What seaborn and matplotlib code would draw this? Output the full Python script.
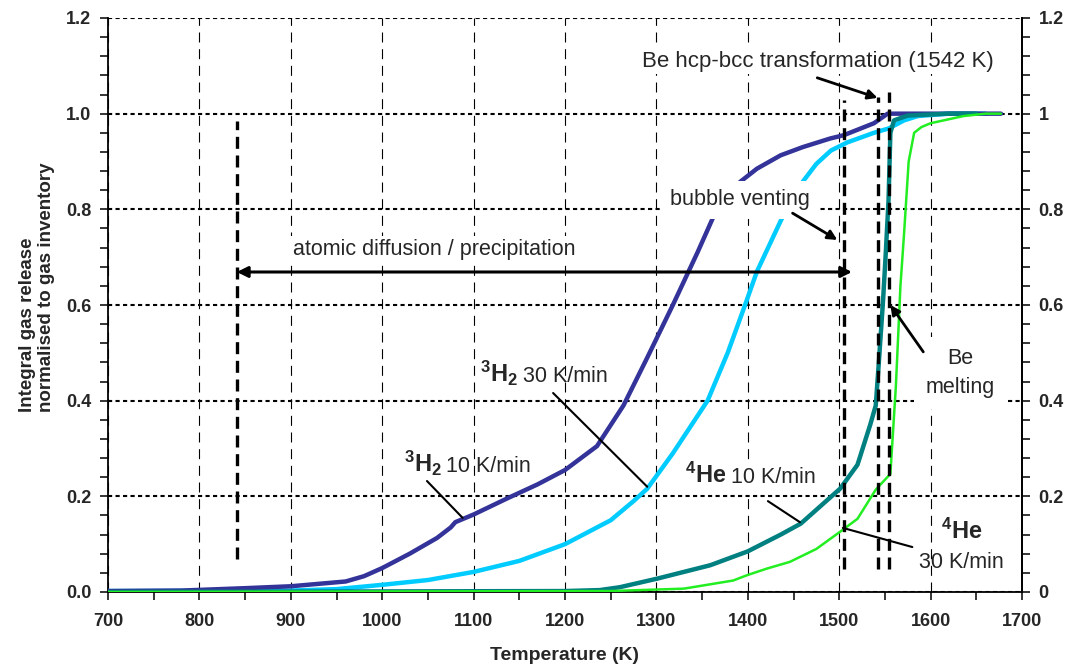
import matplotlib
matplotlib.use("Agg")
import matplotlib.pyplot as plt
import seaborn as sns
from matplotlib.ticker import MultipleLocator, FuncFormatter

# ---- release curves: temperature (K) vs. integral release fraction ----
t_h2_10 = [700, 780, 850, 900, 960, 980, 1000, 1030, 1060, 1075, 1080, 1100, 1136, 1170, 1200,
           1235, 1264, 1290, 1318, 1345, 1366, 1380, 1392, 1410, 1436, 1460, 1490, 1505,
           1538, 1553, 1600, 1677]
v_h2_10 = [0.002, 0.003, 0.008, 0.012, 0.022, 0.033, 0.05, 0.08, 0.113, 0.135, 0.146, 0.162,
           0.195, 0.225, 0.255, 0.305, 0.39, 0.49, 0.6, 0.71, 0.8, 0.835, 0.858, 0.885, 0.913,
           0.93, 0.948, 0.955, 0.98, 1.0, 1.0, 1.0]

t_h2_30 = [700, 900, 950, 1000, 1050, 1100, 1150, 1200, 1250, 1275, 1290, 1318, 1356, 1378,
           1397, 1410, 1436, 1448, 1461, 1475, 1491, 1509, 1538, 1554, 1571, 1586, 1620, 1660]
v_h2_30 = [0.002, 0.003, 0.006, 0.015, 0.025, 0.042, 0.065, 0.1, 0.15, 0.19, 0.216, 0.29,
           0.40, 0.50, 0.60, 0.67, 0.776, 0.82, 0.86, 0.895, 0.923, 0.94, 0.96, 0.969, 0.986,
           0.995, 1.0, 1.0]

t_he_10 = [700, 1200, 1238, 1260, 1301, 1330, 1359, 1400, 1436, 1458, 1501, 1520, 1534, 1540,
           1543, 1548, 1551, 1554, 1556, 1560, 1575, 1620, 1650]
v_he_10 = [0.0, 0.002, 0.004, 0.01, 0.028, 0.042, 0.056, 0.085, 0.12, 0.143, 0.216, 0.266,
           0.35, 0.39, 0.47, 0.61, 0.71, 0.82, 0.96, 0.986, 0.996, 1.0, 1.0]

t_he_30 = [700, 1250, 1330, 1384, 1399, 1421, 1446, 1475, 1501, 1520, 1540, 1556, 1562, 1567,
           1571, 1576, 1582, 1590, 1600, 1636, 1660, 1677]
v_he_30 = [0.0, 0.002, 0.007, 0.024, 0.035, 0.049, 0.063, 0.09, 0.126, 0.153, 0.214, 0.247,
           0.43, 0.64, 0.75, 0.90, 0.96, 0.972, 0.98, 0.995, 1.0, 1.0]

# characteristic temperatures (K)
t_diffusion_start = 841
t_bubble_venting = 1505
t_hcp_bcc = 1542
t_melting = 1555

x_ticks = [700, 800, 900, 1000, 1100, 1200, 1300, 1400, 1500, 1600, 1700]
y_ticks = [0.0, 0.2, 0.4, 0.6, 0.8, 1.0, 1.2]

sns.set_style("ticks")
plt.rcParams["font.family"] = ["Liberation Sans", "DejaVu Sans"]
plt.rcParams["mathtext.fontset"] = "custom"
plt.rcParams["mathtext.rm"] = "Liberation Sans"
plt.rcParams["mathtext.bf"] = "Liberation Sans:bold"

W, H = 1066, 664
fig = plt.figure(figsize=(W / 100, H / 100), dpi=100)
left, right, top, bottom = 108, 1022, 18, 592
ax = fig.add_axes([left / W, 1 - bottom / H, (right - left) / W, (bottom - top) / H])

# grid: dashed verticals, dotted horizontals
ax.set_axisbelow(True)
ax.xaxis.grid(True, which="major", color="black", lw=0.8, linestyle=(0, (9, 6)))
ax.yaxis.grid(True, which="major", color="black", lw=1.5, linestyle=(0, (2, 1.6)))

curves = [
    (t_h2_30, v_h2_30, "#00ccff", 3.2),
    (t_h2_10, v_h2_10, "#333399", 3.2),
    (t_he_10, v_he_10, "#008080", 3.2),
    (t_he_30, v_he_30, "#22ee22", 1.8),
]
for t, v, c, lw in curves:
    sns.lineplot(x=t, y=v, ax=ax, color=c, lw=lw, sort=False, estimator=None,
                 solid_capstyle="round", solid_joinstyle="round", zorder=3)

ax.set_xlim(700, 1700)
ax.set_ylim(0, 1.2)
ax.set_xticks(x_ticks)
ax.set_yticks(y_ticks)
ax.xaxis.set_minor_locator(MultipleLocator(50))
ax.yaxis.set_minor_locator(MultipleLocator(0.04))
ax.yaxis.set_major_formatter(FuncFormatter(lambda v, p: f"{v:.1f}"))
ax.tick_params(axis="both", which="both", direction="out", length=6, width=1.1,
               color="black", top=False, right=False)
ax.tick_params(axis="x", which="major", pad=9, labelsize=13)
ax.tick_params(axis="y", which="major", pad=6, labelsize=13)
for lab in ax.get_xticklabels() + ax.get_yticklabels():
    lab.set_fontweight("bold")
for s in ["left", "bottom", "right"]:
    ax.spines[s].set_color("black")
    ax.spines[s].set_linewidth(1.3)
ax.spines["top"].set_visible(False)
ax.set_xlabel("")
ax.set_ylabel("")

# right-hand axis with the same scale
ax2 = ax.twinx()
ax2.set_ylim(0, 1.2)
ax2.set_yticks(y_ticks)
ax2.yaxis.set_minor_locator(MultipleLocator(0.04))
ax2.yaxis.set_major_formatter(FuncFormatter(lambda v, p: f"{v:g}"))
ax2.tick_params(axis="y", which="both", direction="out", length=6, width=1.1,
                color="black", pad=6, labelsize=13)
for lab in ax2.get_yticklabels():
    lab.set_fontweight("bold")
for s in ["top", "left", "bottom"]:
    ax2.spines[s].set_visible(False)
ax2.spines["right"].set_color("black")
ax2.spines["right"].set_linewidth(1.3)
ax2.grid(False)

fig.text(565 / W, 1 - 655 / H, "Temperature (K)", ha="center", va="center",
         fontsize=14, fontweight="bold")
fig.text(37 / W, 1 - 287 / H, "Integral gas release\nnormalised to gas inventory",
         rotation=90, ha="center", va="center", multialignment="left",
         fontsize=13.5, fontweight="bold", linespacing=1.15)

# thick dashed markers
thick = dict(color="black", lw=2.4, linestyle=(0, (3.6, 2.0)), zorder=5)
ax.plot([t_diffusion_start, t_diffusion_start], [0.07, 0.984], **thick)
ax.plot([t_bubble_venting, t_bubble_venting], [0.048, 1.029], **thick)
ax.plot([t_hcp_bcc, t_hcp_bcc], [0.048, 1.035], **thick)
ax.plot([t_melting, t_melting], [0.048, 1.045], **thick)

box = dict(facecolor="white", edgecolor="none", pad=2)
ann_fs = 15.5

# diffusion range
ax.annotate("", xy=(t_diffusion_start, 0.669), xytext=(1514, 0.669),
            arrowprops=dict(arrowstyle="<|-|>", lw=2.2, color="black",
                            mutation_scale=16, shrinkA=0, shrinkB=0), zorder=6)
ax.text(1057, 0.716, "atomic diffusion / precipitation", ha="center", va="center",
        fontsize=ann_fs, bbox=box, zorder=4)

# phase transformation
ax.text(1477, 1.11, "Be hcp-bcc transformation (1542 K)", ha="center", va="center",
        fontsize=16, bbox=box, zorder=4)
ax.annotate("", xy=(t_hcp_bcc, 1.033), xytext=(1476, 1.075),
            arrowprops=dict(arrowstyle="-|>", lw=2.0, color="black",
                            mutation_scale=14, shrinkA=0, shrinkB=0), zorder=6)

# bubble venting
ax.text(1391, 0.82, "bubble venting", ha="center", va="center", fontsize=ann_fs,
        bbox=dict(facecolor="white", edgecolor="none", pad=6), zorder=4)
ax.annotate("", xy=(1498, 0.736), xytext=(1449, 0.792),
            arrowprops=dict(arrowstyle="-|>", lw=2.0, color="black",
                            mutation_scale=14, shrinkA=0, shrinkB=0), zorder=6)

# melting
ax.text(1632, 0.458, "Be\nmelting", ha="center", va="center", fontsize=ann_fs,
        linespacing=1.45, bbox=dict(facecolor="white", edgecolor="none", pad=8), zorder=4)
ax.annotate("", xy=(1556, 0.60), xytext=(1592, 0.502),
            arrowprops=dict(arrowstyle="-|>", lw=2.0, color="black",
                            mutation_scale=14, shrinkA=0, shrinkB=0), zorder=6)


def species_label(x, y, species, rest):
    ax.text(x, y, species, ha="right", va="baseline", fontsize=17, zorder=6)
    ax.annotate(rest, (x, y), xytext=(3, 0), textcoords="offset points",
                ha="left", va="baseline", fontsize=ann_fs, zorder=6)


h2 = r"$\mathbf{^{3}H_{2}}$"
he = r"$\mathbf{^{4}He}$"

species_label(1065, 0.251, h2, "10 K/min")
ax.plot([1049, 1088], [0.232, 0.155], color="black", lw=1.5, zorder=6)

species_label(1149, 0.439, h2, "30 K/min")
ax.plot([1187, 1290], [0.416, 0.22], color="black", lw=1.5, zorder=6)

ax.text(1377, 0.228, he, ha="right", va="baseline", fontsize=17, zorder=6,
        bbox=dict(facecolor="white", edgecolor="none", pad=4))
ax.annotate("10 K/min", (1377, 0.228), xytext=(3, 0), textcoords="offset points",
            ha="left", va="baseline", fontsize=ann_fs, zorder=6,
            bbox=dict(facecolor="white", edgecolor="none", pad=4))
ax.plot([1422, 1457], [0.19, 0.146], color="black", lw=1.5, zorder=6)

ax.text(1634, 0.11, he, ha="center", va="baseline", fontsize=17, zorder=6)
ax.text(1634, 0.05, "30 K/min", ha="center", va="baseline", fontsize=ann_fs, zorder=6)
ax.plot([1580, 1504], [0.094, 0.134], color="black", lw=1.5, zorder=6)

fig.savefig("out.png", dpi=100)
